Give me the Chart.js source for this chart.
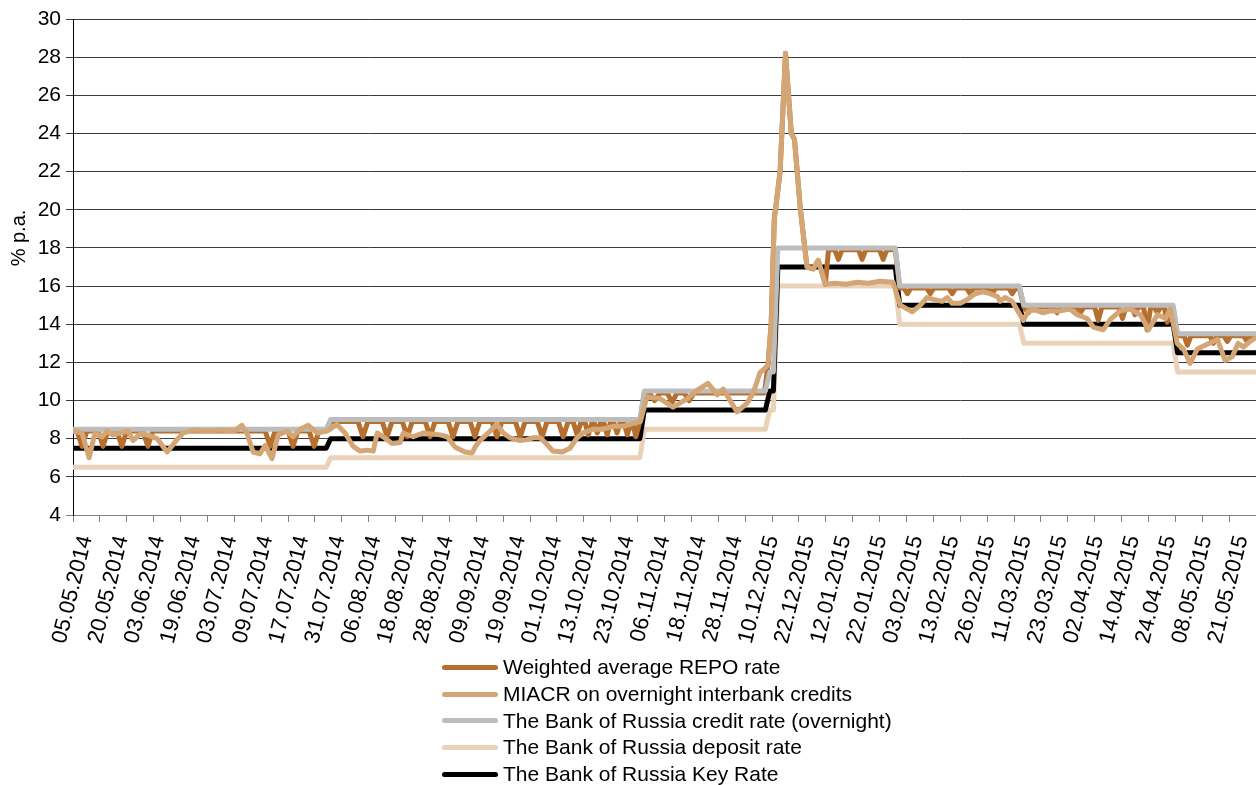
<!DOCTYPE html>
<html>
<head>
<meta charset="utf-8">
<script src="https://cdn.jsdelivr.net/npm/chart.js@4.4.0/dist/chart.umd.min.js"></script>
<style>
  html, body { margin: 0; padding: 0; background: #fff; }
  #wrap { position: relative; width: 1256px; height: 785px; font-family: "Liberation Sans", Arial, sans-serif; color: #000; }
  #chart { position: absolute; left: 0; top: 0; }
  #ytitle { position: absolute; left: -22px; top: 226px; width: 80px; height: 24px; line-height: 24px; text-align: center;
            transform: rotate(-90deg); transform-origin: 40px 12px; font-size: 20px; font-weight: 400; white-space: nowrap; }
  #legend { position: absolute; left: 442px; top: 654px; font-size: 21px; }
  .row { display: flex; align-items: center; height: 26.7px; white-space: nowrap; }
  .swatch { width: 56px; height: 5px; border-radius: 2.5px; margin-right: 5px; }
</style>
</head>
<body>
<div id="wrap">
  <canvas id="chart" width="1256" height="785"></canvas>
  <div id="ytitle">% p.a.</div>
  <div id="legend"></div>
</div>
<script>
// tick labels on the category (business day) axis
const tickLabels = [
  "05.05.2014", "20.05.2014", "03.06.2014", "19.06.2014", "03.07.2014", "09.07.2014",
  "17.07.2014", "31.07.2014", "06.08.2014", "18.08.2014", "28.08.2014", "09.09.2014",
  "19.09.2014", "01.10.2014", "13.10.2014", "23.10.2014", "06.11.2014", "18.11.2014",
  "28.11.2014", "10.12.2015", "22.12.2015", "12.01.2015", "22.01.2015", "03.02.2015",
  "13.02.2015", "26.02.2015", "11.03.2015", "23.03.2015", "02.04.2015", "14.04.2015",
  "24.04.2015", "08.05.2015", "21.05.2015"
];
const xMax = 264;          // number of days on the axis
const tickMarkStep = 6;    // a tick mark every 6 days
const labelStart = 2.9;    // label anchors
const labelStep = 8.06;

// policy rates (step changes), x = day index
const policyX =     [0, 56.5, 57.5, 126.5, 127.5, 154.5, 155.5, 156.3, 157.3, 183.5, 184.5, 211.2, 212.2, 245.5, 246.5, 264];
const keyRate =     [7.5, 7.5, 8, 8, 9.5, 9.5, 10.5, 10.5, 17, 17, 15, 15, 14, 14, 12.5, 12.5];
const creditRate =  [8.5, 8.5, 9, 9, 10.5, 10.5, 11.5, 11.5, 18, 18, 16, 16, 15, 15, 13.5, 13.5];
const depositRate = [6.5, 6.5, 7, 7, 8.5, 8.5, 9.5, 9.5, 16, 16, 14, 14, 13, 13, 11.5, 11.5];

// weighted average REPO rate [day, %]
const repoPoints = [
  [0, 8.4], [0.9, 8.4], [2.0, 7.6], [3.1, 8.4], [5.6, 8.4], [6.7, 7.6], [7.8, 8.4],
  [9.8, 8.4], [10.9, 7.6], [12.0, 8.4], [15.6, 8.4], [16.7, 7.6], [17.8, 8.4],
  [42.9, 8.4], [44.0, 7.6], [45.1, 8.4], [48.0, 8.4], [49.1, 7.6], [50.2, 8.4],
  [52.7, 8.4], [53.8, 7.6], [54.9, 8.4], [56.5, 8.4], [57.5, 8.9],
  [63.6, 8.9], [64.7, 8.1], [65.8, 8.9], [69.0, 8.9], [70.1, 8.1], [71.2, 8.9],
  [73.5, 8.9], [74.6, 8.1], [75.7, 8.9], [78.6, 8.9], [79.7, 8.1], [80.8, 8.9],
  [83.7, 8.9], [84.8, 8.1], [85.9, 8.9], [88.6, 8.9], [89.7, 8.1], [90.8, 8.9],
  [93.5, 8.9], [94.6, 8.1], [95.7, 8.9], [98.7, 8.9], [99.8, 8.1], [100.9, 8.9],
  [103.6, 8.9], [104.7, 8.1], [105.8, 8.9], [108.3, 8.9], [109.4, 8.1], [110.5, 8.9],
  [111.6, 8.9], [112.5, 8.2], [113.4, 8.9], [114.2, 8.9], [115.0, 8.2], [115.9, 8.9],
  [116.2, 8.9], [117.0, 8.3], [117.8, 8.9], [118.4, 8.9], [119.2, 8.2], [120.0, 8.9],
  [120.6, 8.9], [121.4, 8.3], [122.2, 8.9], [122.9, 8.9], [123.7, 8.2], [124.5, 8.9],
  [124.8, 8.9], [125.6, 8.1], [126.5, 8.9], [127.5, 10.4],
  [128.6, 10.4], [129.8, 10.0], [131.0, 10.4], [132.6, 10.4], [133.7, 9.9], [134.8, 10.4],
  [136.4, 10.4], [137.5, 10.0], [138.6, 10.4], [154.3, 10.4],
  [155.1, 11.85], [155.8, 14.0], [156.5, 19.5], [157.8, 22.0], [159.0, 28.2], [160.3, 24.0],
  [161.0, 23.7], [162.3, 20.1], [163.8, 17.0], [165.2, 16.9], [166.3, 17.35], [167.9, 16.1],
  [168.6, 17.9], [170.0, 17.9], [170.8, 17.4], [171.6, 17.9], [175.3, 17.9], [176.1, 17.4],
  [176.9, 17.9], [180.0, 17.9], [180.8, 17.4], [181.6, 17.9], [183.5, 17.9], [184.5, 15.9],
  [185.4, 15.9], [186.2, 15.6], [187.0, 15.9], [190.5, 15.9], [191.3, 15.6], [192.1, 15.9],
  [195.4, 15.9], [196.2, 15.6], [197.0, 15.9], [199.4, 15.9], [200.2, 15.6], [201.0, 15.9],
  [204.3, 15.9], [205.1, 15.6], [205.9, 15.9], [208.8, 15.9], [209.6, 15.6], [210.4, 15.9],
  [211.2, 15.9], [212.2, 14.9], [213.2, 14.6], [214.0, 14.9], [218.8, 14.9], [219.6, 14.6],
  [220.4, 14.9], [224.0, 14.9], [224.8, 14.6], [225.6, 14.9], [228.0, 14.9], [228.8, 14.2],
  [229.6, 14.9], [233.4, 14.9], [234.2, 14.3], [235.0, 14.9], [236.3, 14.9], [237.0, 14.5],
  [237.7, 14.9], [238.9, 14.9], [239.7, 13.7], [240.5, 14.9], [241.3, 14.9], [242.0, 14.6],
  [242.7, 14.9], [243.5, 14.9], [244.2, 14.1], [244.9, 14.9], [245.5, 14.9], [246.5, 13.4],
  [247.9, 13.4], [248.7, 12.9], [249.5, 13.4], [253.7, 13.4], [254.5, 13.0], [255.3, 13.4],
  [256.8, 13.4], [257.6, 13.1], [258.4, 13.4], [261.2, 13.4], [262.0, 13.1], [262.8, 13.4],
  [264, 13.4]
];

// MIACR on overnight interbank credits [day, %]
const miacrPoints = [
  [0, 8.4], [2.0, 8.3], [3.6, 7.0], [4.9, 8.3], [6.5, 8.1], [7.6, 8.4], [8.9, 8.2],
  [10.5, 8.3], [12.3, 8.4], [13.4, 7.9], [15.0, 8.25], [16.7, 8.2], [18.8, 8.0], [21.0, 7.3],
  [23.2, 7.95], [24.6, 8.3], [26.8, 8.45], [30, 8.4], [33, 8.45], [36, 8.4], [37.7, 8.7],
  [38.8, 8.3], [40.2, 7.3], [41.7, 7.2], [42.9, 7.65], [44.4, 6.95], [45.8, 8.2], [47.8, 8.4],
  [49.1, 8.1], [50.7, 8.5], [52.5, 8.7], [54.5, 8.3], [56.7, 8.4], [58.9, 8.75], [60.7, 8.3],
  [62.5, 7.6], [64.1, 7.35], [65.6, 7.4], [67.0, 7.35], [67.9, 8.3], [69.2, 8.1], [71.2, 7.75],
  [73.0, 7.8], [73.7, 8.3], [75.9, 8.1], [78.1, 8.3], [81.9, 8.2], [83.5, 8.1], [85.3, 7.55],
  [87.5, 7.3], [89.1, 7.25], [89.7, 7.55], [90.8, 7.9], [93.1, 8.4], [94.6, 8.75], [96.0, 8.3],
  [97.5, 8.05], [99.8, 7.9], [101.3, 7.95], [102.7, 8.05], [104.2, 8.05], [105.4, 7.8],
  [107.1, 7.35], [109.2, 7.3], [110.9, 7.5], [112.5, 8.05], [113.8, 8.3], [116.1, 8.5],
  [118.3, 8.5], [120.5, 8.65], [122.8, 8.65], [125.0, 8.8], [126.6, 8.9], [128.1, 10.2],
  [131.0, 10.1], [133.9, 9.65], [137.1, 10.1], [139.3, 10.55], [141.7, 10.9], [143.8, 10.3],
  [145.1, 10.6], [148.2, 9.4], [150.4, 9.85], [151.8, 10.4], [153.3, 11.45], [155.1, 11.85],
  [155.8, 14.0], [156.5, 19.5], [157.8, 22.0], [159.0, 28.2], [160.3, 24.0], [161.0, 23.7],
  [162.3, 20.1], [163.8, 17.0], [165.2, 16.9], [166.3, 17.35], [167.9, 16.1], [170.0, 16.15],
  [172.5, 16.1], [175.0, 16.2], [177.5, 16.15], [180.0, 16.25], [183.0, 16.2], [184.6, 15.0],
  [187.3, 14.65], [189.1, 15.0], [190.6, 15.4], [192.0, 15.3], [194.0, 15.2], [195.1, 15.4],
  [196.2, 15.1], [198.0, 15.1], [199.6, 15.3], [201.3, 15.6], [203.1, 15.7], [204.7, 15.6],
  [206.3, 15.45], [206.9, 15.2], [208.0, 15.4], [209.6, 15.2], [210.7, 14.75], [212.1, 14.2],
  [213.2, 14.7], [214.7, 14.75], [216.5, 14.6], [218.1, 14.7], [220.3, 14.7], [222.5, 14.8],
  [224.1, 14.5], [226.3, 14.3], [227.7, 13.85], [229.9, 13.7], [231.5, 14.25], [233.7, 14.7],
  [235.9, 14.8], [238.2, 14.5], [240.0, 13.7], [242.0, 14.5], [243.8, 14.3], [244.9, 14.8],
  [246.4, 13.0], [247.8, 12.7], [249.3, 11.95], [250.9, 12.7], [253.1, 12.95], [255.4, 13.2],
  [257.1, 12.1], [258.7, 12.3], [260.0, 13.0], [261.2, 12.8], [262.7, 13.1], [264.0, 13.3]
];

const seriesNames = [
  "Weighted average REPO rate",
  "MIACR on overnight interbank credits",
  "The Bank of Russia credit rate (overnight)",
  "The Bank of Russia deposit rate",
  "The Bank of Russia Key Rate"
];
const seriesColors = ["#B5702F", "#D4A676", "#BDBDBD", "#E9D2B7", "#000000"];
// lower order = drawn on top
const seriesOrder = [2, 0, 1, 4, 3];

const labelPos = tickLabels.map((t, k) => labelStart + labelStep * k);

function pairs(points) {
  return points.map((p) => ({ x: p[0], y: p[1] }));
}
function zipXY(xs, ys) {
  return xs.map((x, i) => ({ x: x, y: ys[i] }));
}

const seriesData = [
  pairs(repoPoints),
  pairs(miacrPoints),
  zipXY(policyX, creditRate),
  zipXY(policyX, depositRate),
  zipXY(policyX, keyRate)
];

const datasets = seriesNames.map((name, i) => ({
  label: name,
  data: seriesData[i],
  borderColor: seriesColors[i],
  backgroundColor: seriesColors[i],
  borderWidth: 5,
  pointRadius: 0,
  fill: false,
  tension: 0,
  borderJoinStyle: "round",
  borderCapStyle: "round",
  order: seriesOrder[i]
}));

const fontFamily = "'Liberation Sans', Arial, sans-serif";

new Chart(document.getElementById("chart"), {
  type: "line",
  data: { datasets: datasets },
  options: {
    responsive: false,
    animation: false,
    devicePixelRatio: 1,
    layout: { padding: { top: 19, right: 0, bottom: 0, left: 0 } },
    plugins: { legend: { display: false }, tooltip: { enabled: false } },
    scales: {
      x: {
        type: "linear",
        min: 0,
        max: xMax,
        afterBuildTicks: function (scale) {
          const vals = [];
          for (let v = 0; v <= xMax; v += tickMarkStep) vals.push(v);
          labelPos.forEach((v) => vals.push(v));
          vals.sort((a, b) => a - b);
          scale.ticks = vals.map((v) => ({ value: v }));
        },
        afterFit: function (scale) {
          scale.height = 270;
          scale.paddingLeft = 0;
          scale.paddingRight = 0;
        },
        grid: {
          drawOnChartArea: false,
          drawTicks: true,
          tickLength: 7,
          lineWidth: 1,
          color: (ctx) =>
            ctx.tick && ctx.tick.value % tickMarkStep === 0 ? "#7f7f7f" : "rgba(0,0,0,0)"
        },
        border: { display: true, color: "#808080", width: 1 },
        ticks: {
          autoSkip: false,
          minRotation: 76,
          maxRotation: 76,
          padding: 11,
          color: "#000",
          font: { family: fontFamily, size: 22 },
          callback: function (value) {
            const k = labelPos.indexOf(value);
            return k >= 0 ? tickLabels[k] : "";
          }
        }
      },
      y: {
        min: 4,
        max: 30,
        afterFit: function (scale) {
          scale.width = 73;
        },
        grid: {
          tickLength: 7,
          lineWidth: 1,
          color: (ctx) => (ctx.tick && ctx.tick.value === 4 ? "#808080" : "#3c3c3c")
        },
        border: { display: true, color: "#000", width: 1 },
        ticks: { stepSize: 2, padding: 5, color: "#000", font: { family: fontFamily, size: 21 } }
      }
    }
  }
});

// legend, one row per series
const legend = document.getElementById("legend");
seriesNames.forEach((name, i) => {
  const row = document.createElement("div");
  row.className = "row";
  row.innerHTML = `<span class="swatch" style="background:${seriesColors[i]}"></span><span>${name}</span>`;
  legend.appendChild(row);
});
</script>
</body>
</html>
